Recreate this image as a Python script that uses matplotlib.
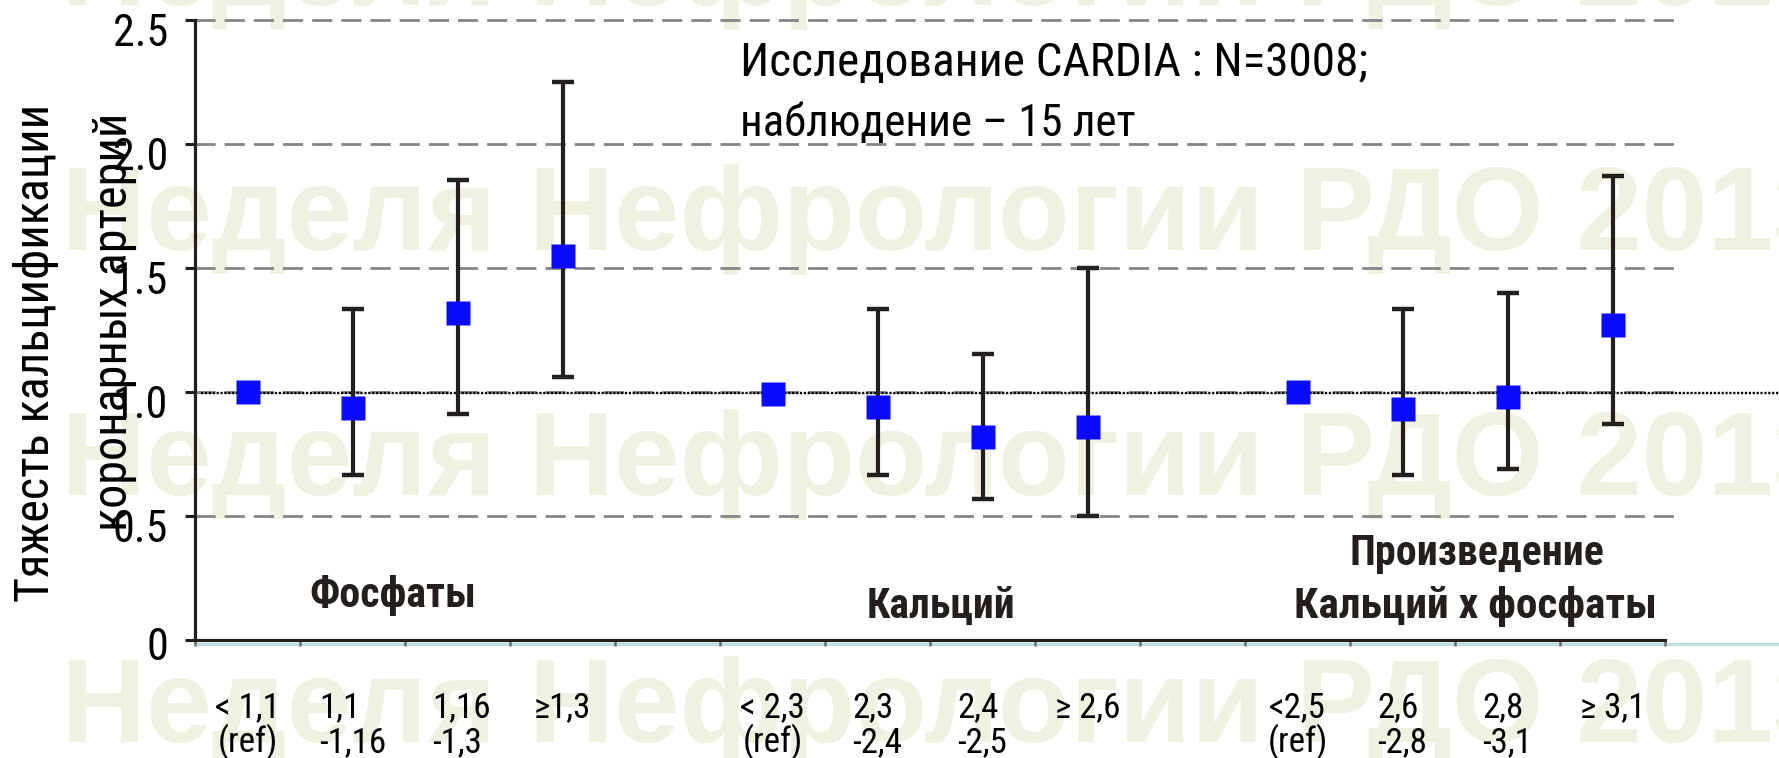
import numpy as np
import matplotlib
matplotlib.use("Agg")
import matplotlib.pyplot as plt
import matplotlib.transforms as mtransforms
from matplotlib import font_manager as fm
from matplotlib.font_manager import FontProperties

# ---------------- data ----------------
group_names = ["Фосфаты", "Кальций", "Произведение\nКальций х фосфаты"]
phos_labels = ["< 1,1\n(ref)", "1,1\n-1,16", "1,16\n-1,3", "≥1,3"]
calc_labels = ["< 2,3\n(ref)", "2,3\n-2,4", "2,4\n-2,5", "≥ 2,6"]
prod_labels = ["<2,5\n(ref)", "2,6\n-2,8", "2,8\n-3,1", "≥ 3,1"]

phos_val = [1.00, 0.935, 1.32, 1.55]
phos_lo = [np.nan, 0.665, 0.91, 1.06]
phos_hi = [np.nan, 1.335, 1.855, 2.25]

calc_val = [0.99, 0.94, 0.82, 0.86]
calc_lo = [np.nan, 0.665, 0.57, 0.50]
calc_hi = [np.nan, 1.335, 1.155, 1.50]

prod_val = [1.00, 0.93, 0.98, 1.27]
prod_lo = [np.nan, 0.665, 0.69, 0.87]
prod_hi = [np.nan, 1.335, 1.40, 1.87]

y_ticks = [0, 0.5, 1.0, 1.5, 2.0, 2.5]
y_ticklabels = ["0", "0.5", "1.0", "1.5", "2.0", "2.5"]
y_label_lines = ["Тяжесть кальцификации", "коронарных артерий"]
note_lines = ["Исследование CARDIA : N=3008;", "наблюдение – 15 лет"]
watermark = "Неделя Нефрологии РДО 2013"


# ---------------- fonts ----------------
def _w(f):
    w = f.weight
    if isinstance(w, str):
        w = fm.weight_dict.get(w, 400)
    return int(w)


def pick_font(weight):
    cands = [("Liberation Sans Narrow", None), ("Arial Narrow", None),
             ("Roboto Condensed", None), ("Roboto", "condensed"),
             ("Open Sans Condensed", None), ("Noto Sans", "condensed"),
             ("DejaVu Sans", "condensed"), ("Open Sans", "condensed")]
    for name, st in cands:
        for f in fm.fontManager.ttflist:
            if f.name != name or f.style != "normal":
                continue
            s = str(f.stretch)
            if st and "condensed" not in s:
                continue
            if st and ("extra" in s or "ultra" in s):
                continue
            if abs(_w(f) - weight) <= 100:
                return f.fname
    return None


reg = pick_font(400)
bld = pick_font(700)
FP_REG = FontProperties(fname=reg) if reg else FontProperties(family="Liberation Sans")
FP_BLD = FontProperties(fname=bld) if bld else FontProperties(family="Liberation Sans", weight="bold")

plt.rcParams["lines.scale_dashes"] = False

W, H = 1779, 758
fig = plt.figure(figsize=(W / 100, H / 100), dpi=100)
fig.patch.set_facecolor("white")
renderer = fig.canvas.get_renderer()

AX_L, AX_R, AX_T, AX_B = 195, 1665, 20, 640
ax = fig.add_axes([AX_L / W, 1 - AX_B / H, (AX_R - AX_L) / W, (AX_B - AX_T) / H])
ax.set_facecolor("none")


def fx(px):
    return px / W


def fy(py):
    return 1 - py / H


def fp_of(fp, size):
    p = fp.copy()
    p.set_size(size)
    return p


def fitted_size(s, fp, target, boost=1.0):
    t = fig.text(0, 0, s)
    t.set_fontproperties(fp_of(fp, 20))
    bb = t.get_window_extent(renderer)
    t.remove()
    return 20 * target / bb.width * boost


# watermark rows (behind everything)
for base in [5, 250, 495, 742]:
    fig.text(fx(61), fy(base), watermark, fontsize=85, fontweight="bold",
             family="Liberation Sans", color="#f0f1e0", ha="left", va="baseline",
             zorder=-5)

# ---------------- axes & grid ----------------
n_slots = 14
ax.set_xlim(0, n_slots)
ax.set_ylim(0, 2.5)

ytr = ax.get_yaxis_transform()
dark = "#231f1c"
for yv in y_ticks[1:]:
    ax.plot([0, 1.009], [yv, yv], transform=ytr, color="#858585", lw=2.0,
            dashes=(14.5, 6.5), clip_on=False, zorder=1, dash_capstyle="butt")
ax.plot([0.004, 1.08], [0.995, 0.995], transform=ytr, color="black", lw=1.7,
        dashes=(1.6, 1.2), clip_on=False, zorder=2)
ax.plot([0, 1.08], [-0.017, -0.017], transform=ytr, color="#b9dfe2", lw=2.2,
        clip_on=False, zorder=1, solid_capstyle="butt")

for s in ["top", "right"]:
    ax.spines[s].set_visible(False)
for s in ["left", "bottom"]:
    ax.spines[s].set_color(dark)
    ax.spines[s].set_linewidth(2.3)
    ax.spines[s].set_zorder(3)

ytick_size = fitted_size("2.5", FP_REG, 46, boost=1.2)
ax.set_yticks(y_ticks)
ax.set_yticklabels(y_ticklabels)
ax.tick_params(axis="y", direction="out", length=7.5, width=2.2, color=dark, pad=12)
for i, lab in enumerate(ax.get_yticklabels()):
    lab.set_fontproperties(fp_of(FP_REG, ytick_size))
    dy = 3 if i == 0 else 10
    lab.set_transform(lab.get_transform() +
                      mtransforms.ScaledTranslation(0, -dy / 100, fig.dpi_scale_trans))

ax.set_xticks(np.arange(0, n_slots + 1))
ax.set_xticklabels([])
ax.tick_params(axis="x", direction="out", length=4, width=1.8, color="#6e6e6e")

xlab_size = fitted_size("< 1,1", FP_REG, 60, boost=1.08)
XFP = fp_of(FP_REG, xlab_size)

# ---------------- data marks ----------------
groups = [(0, phos_labels, phos_val, phos_lo, phos_hi),
          (5, calc_labels, calc_val, calc_lo, calc_hi),
          (10, prod_labels, prod_val, prod_lo, prod_hi)]

lab_tr = mtransforms.blended_transform_factory(ax.transData, fig.transFigure)
BASE1, BASE2 = 717, 752
for start, labels, vals, lo, hi in groups:
    xs = start + np.arange(len(vals)) + 0.5
    vals = np.asarray(vals, float)
    lo = np.asarray(lo, float)
    hi = np.asarray(hi, float)
    m = ~np.isnan(lo)
    ax.errorbar(xs[m], vals[m], yerr=[vals[m] - lo[m], hi[m] - vals[m]], fmt="none",
                ecolor=dark, elinewidth=3.0, capsize=8, capthick=3.2, zorder=4)
    ax.plot(xs, vals, "s", color="#0a0aff", ms=17, mec="none", zorder=5)
    for x, lab in zip(xs, labels):
        parts = lab.split("\n")
        t1 = ax.text(x, fy(BASE1), parts[0], transform=lab_tr, ha="center",
                     va="baseline", color="black", fontproperties=XFP)
        if len(parts) > 1:
            t2 = ax.text(x, fy(BASE2), parts[1], transform=lab_tr, ha="center",
                         va="baseline", color="black", fontproperties=XFP)
            if parts[1].startswith("-"):
                bb = t2.get_window_extent(renderer)
                t1.set_transform(fig.transFigure)
                t1.set_position((bb.x0 / W, fy(BASE1)))
                t1.set_ha("left")

# group labels
g3 = group_names[2].split("\n")
for txt, cx, base, wt in [(group_names[0], 393, 607, 162),
                          (group_names[1], 941, 618, 144),
                          (g3[0], 1477, 565, 246),
                          (g3[1], 1475, 618, 352)]:
    fig.text(fx(cx), fy(base), txt, ha="center", va="baseline", color=dark,
             fontproperties=fp_of(FP_BLD, fitted_size(txt, FP_BLD, wt, 1.03)))

# note
for txt, base, wt in [(note_lines[0], 76, 622), (note_lines[1], 136, 391)]:
    fig.text(fx(740), fy(base), txt, ha="left", va="baseline", color="black",
             fontproperties=fp_of(FP_REG, fitted_size(txt, FP_REG, wt, 1.01)))

# y label (two lines, same size, aligned at their upper end)
ylab_size = fitted_size(y_label_lines[0], FP_REG, 497)
for xb, ytop, line in [(49, 104, y_label_lines[0]), (127, 113, y_label_lines[1])]:
    fig.text(fx(xb), fy(ytop), line, rotation=90, rotation_mode="anchor",
             ha="right", va="baseline", color="black",
             fontproperties=fp_of(FP_REG, ylab_size))

fig.savefig("out.png", dpi=100, facecolor="white")
